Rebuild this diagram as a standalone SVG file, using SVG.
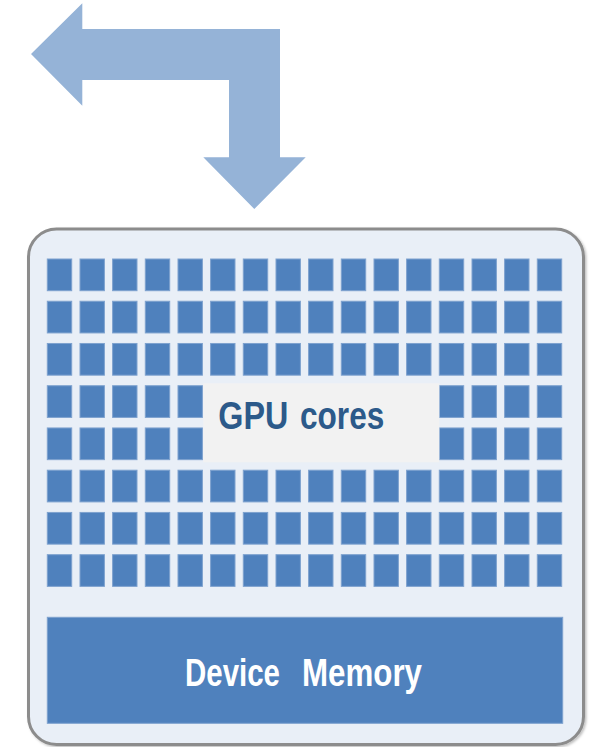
<svg xmlns="http://www.w3.org/2000/svg" width="593" height="747" viewBox="0 0 593 747">
  <style>
    .core { fill: #4F81BD; stroke: #7EA2CF; stroke-width: 1; }
    .label { font-family: "Liberation Sans", Arial, sans-serif; font-weight: bold; font-size: 38px; }
  </style>
  <defs>
    <filter id="shadow" x="-5%" y="-5%" width="110%" height="110%">
      <feDropShadow dx="1.5" dy="1.5" stdDeviation="1" flood-color="#000" flood-opacity="0.25"/>
    </filter>
  </defs>
  <rect width="593" height="747" fill="#FFFFFF"/>

  <!-- data flow arrow: host to device -->
  <g id="connectors">
    <path d="M31,54 L82.3,3.3 L82.3,29 L280,29 L280,157.3 L305.7,157.3 L254.3,209 L203.3,157.3 L229,157.3 L229,80 L82.3,80 L82.3,105.7 Z" fill="#95B3D7"/>
  </g>

  <!-- GPU package -->
  <g id="gpu">
    <rect x="28.5" y="229" width="555" height="515.5" rx="28" ry="28" fill="#E9EFF7" stroke="#8C8C8C" stroke-width="3" filter="url(#shadow)"/>
  </g>

  <!-- grid of cores: 16 columns x 8 rows -->
  <g id="cores">
    <g id="row0">
      <rect class="core" x="47.3" y="259" width="24.4" height="31.7"/>
      <rect class="core" x="80" y="259" width="24.4" height="31.7"/>
      <rect class="core" x="112.6" y="259" width="24.4" height="31.7"/>
      <rect class="core" x="145.3" y="259" width="24.4" height="31.7"/>
      <rect class="core" x="178" y="259" width="24.4" height="31.7"/>
      <rect class="core" x="210.6" y="259" width="24.4" height="31.7"/>
      <rect class="core" x="243.3" y="259" width="24.4" height="31.7"/>
      <rect class="core" x="276" y="259" width="24.4" height="31.7"/>
      <rect class="core" x="308.6" y="259" width="24.4" height="31.7"/>
      <rect class="core" x="341.3" y="259" width="24.4" height="31.7"/>
      <rect class="core" x="374" y="259" width="24.4" height="31.7"/>
      <rect class="core" x="406.6" y="259" width="24.4" height="31.7"/>
      <rect class="core" x="439.3" y="259" width="24.4" height="31.7"/>
      <rect class="core" x="472" y="259" width="24.4" height="31.7"/>
      <rect class="core" x="504.6" y="259" width="24.4" height="31.7"/>
      <rect class="core" x="537.3" y="259" width="24.4" height="31.7"/>
    </g>
    <use href="#row0" y="42.24"/>
    <use href="#row0" y="84.48"/>
    <use href="#row0" y="126.72"/>
    <use href="#row0" y="168.96"/>
    <use href="#row0" y="211.2"/>
    <use href="#row0" y="253.44"/>
    <use href="#row0" y="295.68"/>
  </g>

  <!-- label panel over the middle cores -->
  <g id="gpu-cores">
    <rect x="203.3" y="383.3" width="236" height="79" fill="#F2F2F2"/>
    <text class="label" y="429" fill="#2C5A8A"><tspan x="218.3" textLength="70" lengthAdjust="spacingAndGlyphs">GPU</tspan> <tspan x="300" textLength="84.3" lengthAdjust="spacingAndGlyphs">cores</tspan></text>
  </g>

  <!-- device memory -->
  <g id="device-memory">
    <rect x="47.3" y="617.3" width="515.4" height="106" fill="#4F81BD" stroke="#7EA2CF" stroke-width="1"/>
    <text class="label" y="685.7" fill="#FFFFFF"><tspan x="185" textLength="95" lengthAdjust="spacingAndGlyphs">Device</tspan> <tspan x="302" textLength="120" lengthAdjust="spacingAndGlyphs">Memory</tspan></text>
  </g>
</svg>
